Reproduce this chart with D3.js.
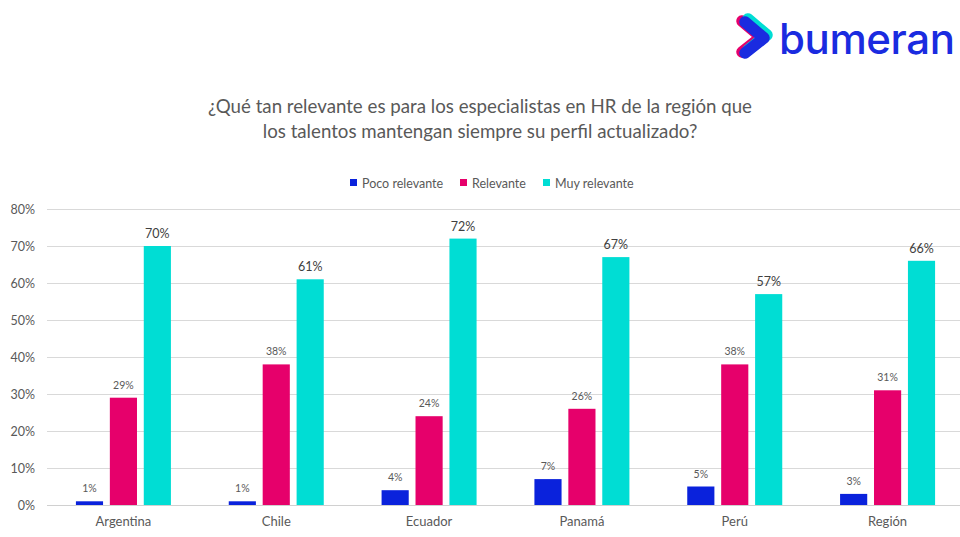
<!DOCTYPE html>
<html><head><meta charset="utf-8">
<script src="https://cdn.jsdelivr.net/npm/d3@7"></script>
<style>body{margin:0;background:#fff;}svg{display:block;}</style>
</head><body>
<script>
const categories = ["Argentina","Chile","Ecuador","Panamá","Perú","Región"];
const seriesNames = ["Poco relevante","Relevante","Muy relevante"];
const pocoRelevante = [1,1,4,7,5,3];
const relevante = [29,38,24,26,38,31];
const muyRelevante = [70,61,72,67,57,66];
const yTicks = [0,10,20,30,40,50,60,70,80];
const colors = ["#0A22DC","#E6006B","#00DDD4"];
const titleLines = ["¿Qué tan relevante es para los especialistas en HR de la región que","los talentos mantengan siempre su perfil actualizado?"];

const W=960,H=537;
const svg=d3.select("body").append("svg").attr("width",W).attr("height",H);
const font="Lato, 'Open Sans', sans-serif";
const gray="#595959";

const x=d3.scaleBand().domain(categories).range([47,964]).paddingInner(0).paddingOuter(0);
const y=d3.scaleLinear().domain([0,80]).range([505,209]);
const xs=d3.scaleBand().domain(seriesNames).range([0,95]).paddingInner(0.2).paddingOuter(0);
const groupOffset=(x.bandwidth()-95)/2;

// grid
const yAxis=d3.axisLeft(y).tickValues(yTicks).tickFormat(d=>d+"%").tickSize(-(W-47)).tickPadding(12);
const ga=svg.append("g").attr("transform","translate(47,0)").call(yAxis);
ga.select(".domain").remove();
ga.selectAll(".tick line").attr("stroke",d=>d===0?"#d0d0d0":"#d9d9d9").attr("stroke-width",1);
ga.selectAll(".tick text").attr("fill",gray).attr("font-family",font).attr("font-size",12.5);

// x labels
const xAxis=d3.axisBottom(x).tickSize(0).tickPadding(12);
const gx=svg.append("g").attr("transform","translate(0,505)").call(xAxis);
gx.select(".domain").remove();
gx.selectAll(".tick text").attr("fill",gray).attr("font-family",font).attr("font-size",13);

const series=[pocoRelevante,relevante,muyRelevante];
series.forEach((vals,si)=>{
  const g=svg.append("g");
  g.selectAll("rect").data(vals).join("rect")
    .attr("x",(d,i)=>x(categories[i])+groupOffset+xs(seriesNames[si]))
    .attr("y",d=>y(d))
    .attr("width",xs.bandwidth())
    .attr("height",d=>y(0)-y(d))
    .attr("fill",colors[si]);
  g.selectAll("text").data(vals).join("text")
    .attr("x",(d,i)=>x(categories[i])+groupOffset+xs(seriesNames[si])+xs.bandwidth()/2)
    .attr("y",d=>y(d)-(si===2?8:9))
    .attr("text-anchor","middle")
    .attr("fill",si===2?"#404040":gray)
    .attr("font-family",font)
    .attr("font-size",si===2?12.5:10.5)
    .text(d=>d+"%");
});

// title
svg.append("g").selectAll("text").data(titleLines).join("text")
  .attr("x",480).attr("y",(d,i)=>112.5+i*25)
  .attr("text-anchor","middle").attr("fill",gray)
  .attr("font-family",font).attr("font-size",18.7)
  .text(d=>d);

// legend
const legendX=[350,460,543];
const lg=svg.append("g");
seriesNames.forEach((n,i)=>{
  lg.append("rect").attr("x",legendX[i]).attr("y",179).attr("width",7).attr("height",7).attr("fill",colors[i]);
  lg.append("text").attr("x",legendX[i]+12).attr("y",187.5).attr("fill",gray)
    .attr("font-family",font).attr("font-size",12.5).text(n);
});

// logo
const logo=svg.append("g");
const chev="M745,22 L764,38 L745,53";
const sw=11.5;
logo.append("path").attr("d",chev).attr("transform","translate(-3,-1)").attr("fill","none").attr("stroke","#E6006B").attr("stroke-width",sw).attr("stroke-linecap","round").attr("stroke-linejoin","round");
logo.append("path").attr("d",chev).attr("transform","translate(3,-3)").attr("fill","none").attr("stroke","#00DDD4").attr("stroke-width",sw).attr("stroke-linecap","round").attr("stroke-linejoin","round");
logo.append("path").attr("d",chev).attr("fill","none").attr("stroke","#1A2BE0").attr("stroke-width",sw).attr("stroke-linecap","round").attr("stroke-linejoin","round");
logo.append("text").attr("x",779).attr("y",54).attr("fill","#1A2BE0")
  .attr("font-family","Inter, 'Noto Sans', sans-serif").attr("font-size",42).attr("font-weight",500)
  .attr("textLength",176).attr("lengthAdjust","spacing").text("bumeran");
</script>
</body></html>
